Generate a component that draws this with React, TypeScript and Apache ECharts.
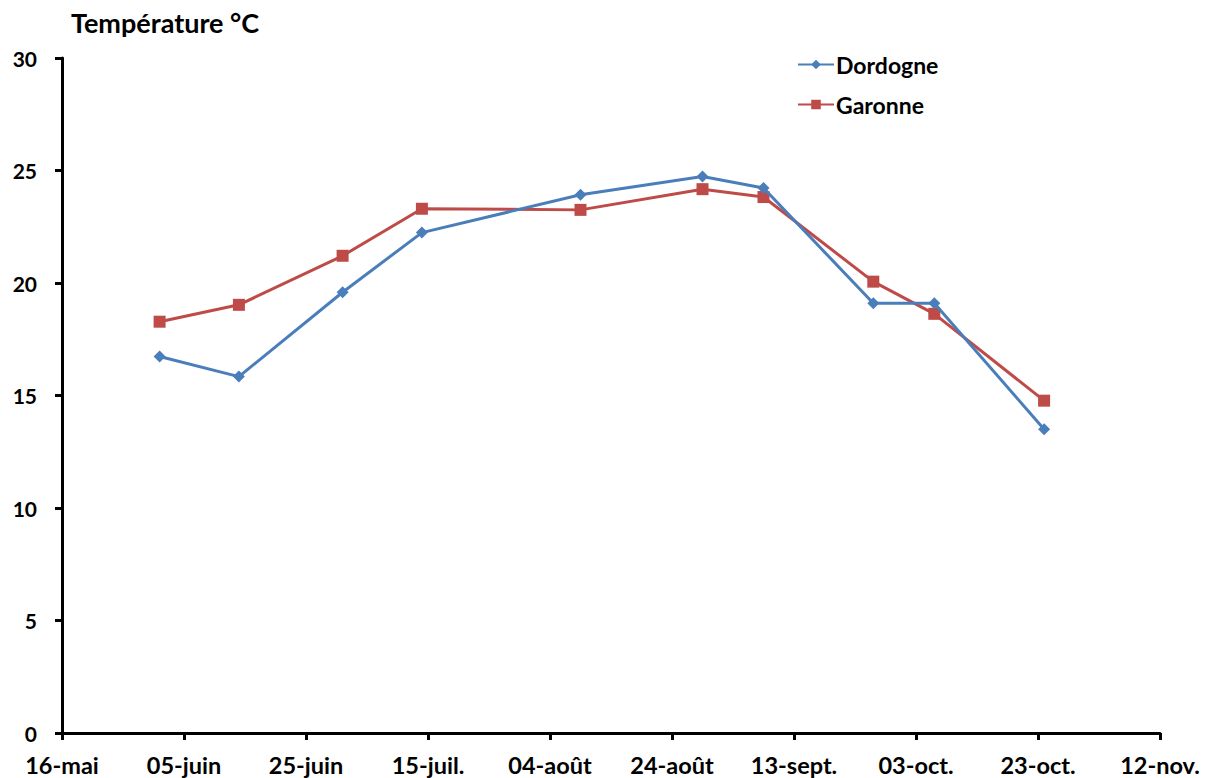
import React, { useEffect, useRef } from "react";
import * as echarts from "echarts";

const startDate = "2012-05-16";
const endDate = "2012-11-12";
const dates = [
  "2012-06-01", "2012-06-14", "2012-07-01", "2012-07-14", "2012-08-09",
  "2012-08-29", "2012-09-08", "2012-09-26", "2012-10-06", "2012-10-24",
];
const dordogne = [16.73, 15.84, 19.59, 22.24, 23.92, 24.73, 24.22, 19.1, 19.1, 13.5];
const garonne = [18.28, 19.03, 21.21, 23.3, 23.25, 24.17, 23.82, 20.06, 18.63, 14.77];
const tickLabels = [
  "16-mai", "05-juin", "25-juin", "15-juil.", "04-août",
  "24-août", "13-sept.", "03-oct.", "23-oct.", "12-nov.",
];
const yTicks = [0, 5, 10, 15, 20, 25, 30];

const dayOf = (d: string) => Math.round((Date.parse(d) - Date.parse(startDate)) / 86400000);
const font = "Lato, 'Open Sans', sans-serif";

export default function App() {
  const ref = useRef<HTMLDivElement>(null);
  useEffect(() => {
    if (!ref.current) return;
    const chart = echarts.init(ref.current, null, { renderer: "svg" });
    const axisColor = "#000";
    const totalDays = dayOf(endDate);
    chart.setOption({
      animation: false,
      backgroundColor: "#fff",
      title: {
        text: "Température °C",
        left: 66,
        top: 4,
        textStyle: { fontFamily: font, fontWeight: "bold", fontSize: 27, color: "#000" },
      },
      legend: {
        orient: "vertical",
        left: 792,
        top: 48,
        itemWidth: 36,
        itemHeight: 12,
        itemGap: 17,
        textStyle: { fontFamily: font, fontWeight: "bold", fontSize: 23, color: "#000", padding: [0, 0, 0, -3] },
        data: ["Dordogne", "Garonne"],
      },
      grid: { left: 62, right: 53, top: 58, bottom: 45, containLabel: false },
      xAxis: {
        type: "value",
        min: 0,
        max: totalDays,
        interval: 20,
        axisLine: { show: true, lineStyle: { color: axisColor, width: 3 } },
        axisTick: { show: true, length: 7, lineStyle: { color: axisColor, width: 3 } },
        splitLine: { show: false },
        axisLabel: {
          margin: 20,
          fontFamily: font,
          fontWeight: "bold",
          fontSize: 23.5,
          color: "#000",
          formatter: (v: number) => tickLabels[Math.round(v / 20)] ?? "",
        },
      },
      yAxis: {
        type: "value",
        min: yTicks[0],
        max: yTicks[yTicks.length - 1],
        interval: 5,
        axisLine: { show: true, lineStyle: { color: axisColor, width: 3 } },
        axisTick: { show: true, length: 7, lineStyle: { color: axisColor, width: 3 } },
        splitLine: { show: false },
        axisLabel: {
          margin: 25,
          fontFamily: font,
          fontWeight: "bold",
          fontSize: 21,
          color: "#000",
        },
      },
      series: [
        {
          name: "Dordogne",
          type: "line",
          data: dates.map((d, i) => [dayOf(d), dordogne[i]]),
          symbol: "diamond",
          symbolSize: 12,
          lineStyle: { color: "#4A7EBB", width: 3 },
          itemStyle: { color: "#4A7EBB" },
          z: 3,
        },
        {
          name: "Garonne",
          type: "line",
          data: dates.map((d, i) => [dayOf(d), garonne[i]]),
          symbol: "rect",
          symbolSize: 12,
          lineStyle: { color: "#BE4B48", width: 3 },
          itemStyle: { color: "#BE4B48" },
          z: 2,
        },
      ],
    });
    return () => chart.dispose();
  }, []);
  return (
    <div
      ref={ref}
      style={{ position: "fixed", left: 0, top: 0, width: 1213, height: 778, background: "#fff" }}
    />
  );
}
